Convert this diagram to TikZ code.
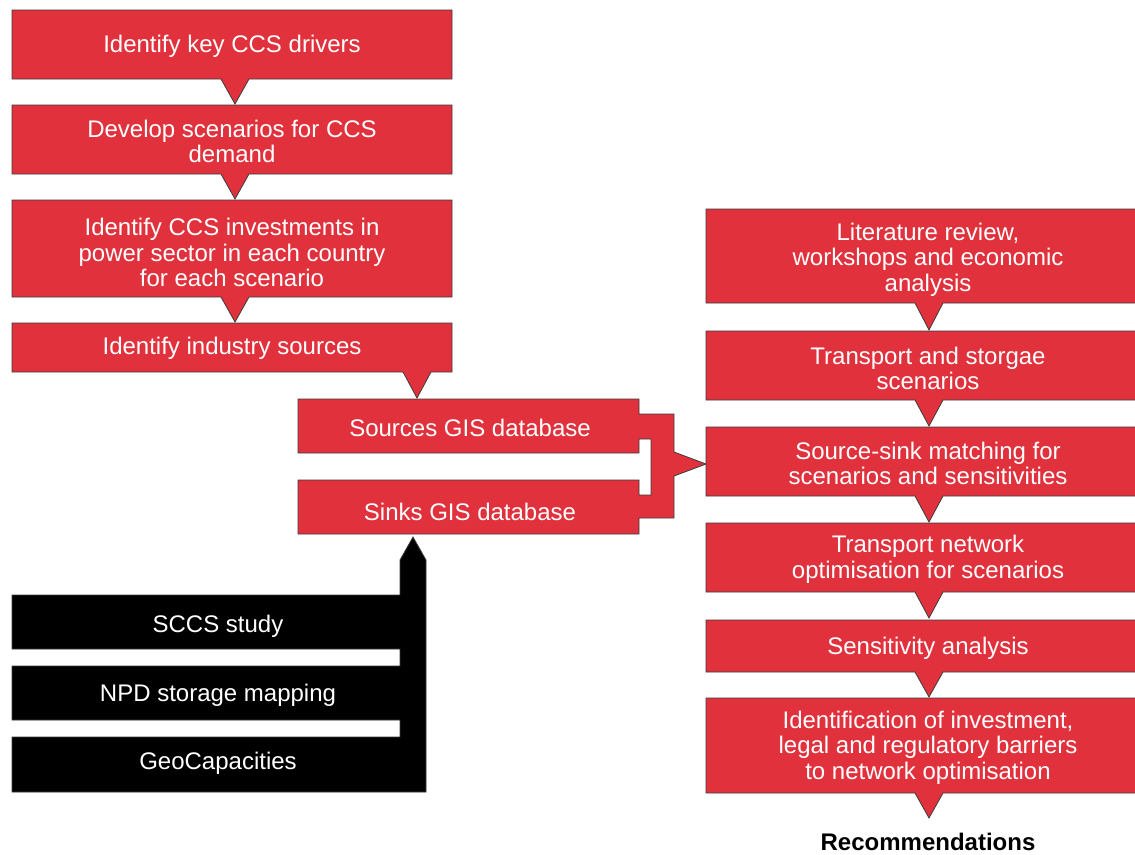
\documentclass[tikz,border=0pt]{standalone}
\usepackage{fontspec}
\setmainfont{Liberation Sans}
\definecolor{ccsred}{RGB}{224,49,60}
\definecolor{edgegray}{RGB}{60,60,60}
\tikzset{
  x=0.75pt, y=-0.75pt,
  redshape/.style={fill=ccsred, draw=edgegray, line width=0.6pt, line join=miter},
  blackshape/.style={fill=black, draw=edgegray, line width=0.6pt, line join=miter},
  boxtext/.style={text=white, align=center, inner sep=0pt, font=\fontsize{18}{19.2}\selectfont},
  endtext/.style={text=black, align=center, inner sep=0pt, font=\fontsize{18}{19.2}\selectfont\bfseries},
}
% box with a downward pointer: x1 y1 x2 y2 tipx tipy
\newcommand\pointerbox[6]{%
  \path[redshape] (#1,#2) -- (#3,#2) -- (#3,#4) -- ({#5+14},#4) -- (#5,#6)
    -- ({#5-14},#4) -- (#1,#4) -- cycle;}
\begin{document}
\begin{tikzpicture}
\useasboundingbox (0,0) rectangle (1135,854);
\clip (0,0) rectangle (1135,854);

% left column
\pointerbox{12}{10}{452}{79}{235}{104}
\pointerbox{12}{105}{452}{174}{235}{199}
\pointerbox{12}{200}{452}{297}{235}{322}
\pointerbox{12}{323}{452}{372}{417}{398}

\node[boxtext] (drivers) at (232,46.5) {Identify key CCS drivers};
\node[boxtext] (demand) at (232,141.5) {Develop scenarios for CCS\\demand};
\node[boxtext] (power) at (232,252.5) {Identify CCS investments in\\power sector in each country\\for each scenario};
\node[boxtext] (industry) at (232,348.5) {Identify industry sources};

% source and sink databases joined by a bracket
\path[redshape] (298,399) -- (639,399) -- (639,414) -- (674,414) -- (674,452)
  -- (706,464) -- (674,476) -- (674,518) -- (639,518) -- (639,534)
  -- (298,534) -- (298,480) -- (639,480) -- (639,495) -- (651,495)
  -- (651,439) -- (639,439) -- (639,453) -- (298,453) -- cycle;
\node[boxtext] (sources) at (470,427.5) {Sources GIS database};
\node[boxtext] (sinks) at (470,511.5) {Sinks GIS database};

% storage data inputs
\path[blackshape] (12,595) -- (400,595) -- (400,560) -- (413,537) -- (426,560)
  -- (426,792) -- (12,792) -- (12,737) -- (400,737) -- (400,720) -- (12,720)
  -- (12,666) -- (400,666) -- (400,649) -- (12,649) -- cycle;
\node[boxtext] (sccs) at (218,626.5) {SCCS study};
\node[boxtext] (npd) at (218,695.5) {NPD storage mapping};
\node[boxtext] (geo) at (218,763.5) {GeoCapacities};

% right column
\pointerbox{706}{209}{1150}{303}{929}{330}
\pointerbox{706}{331}{1150}{400}{929}{426}
\pointerbox{706}{427}{1150}{496}{929}{522}
\pointerbox{706}{523}{1150}{592}{929}{618}
\pointerbox{706}{620}{1150}{672}{929}{697}
\pointerbox{706}{698}{1150}{793}{929}{818}

\node[boxtext] (review) at (928,259.5) {Literature review,\\workshops and economic\\analysis};
\node[boxtext] (transport) at (928,368.5) {Transport and storgae\\scenarios};
\node[boxtext] (matching) at (928,463.5) {Source-sink matching for\\scenarios and sensitivities};
\node[boxtext] (network) at (928,559.5) {Transport network\\optimisation for scenarios};
\node[boxtext] (sensitivity) at (928,648.5) {Sensitivity analysis};
\node[boxtext] (barriers) at (928,747.5) {Identification of investment,\\legal and regulatory barriers\\to network optimisation};
\node[endtext] (recs) at (928,842) {Recommendations};
\end{tikzpicture}
\end{document}
